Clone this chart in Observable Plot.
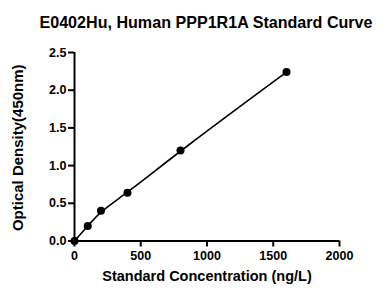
<!DOCTYPE html>
<html><head><meta charset="utf-8">
<script src="https://cdn.jsdelivr.net/npm/d3@7"></script>
<script src="https://cdn.jsdelivr.net/npm/@observablehq/plot@0.6"></script>
<style>
body{margin:0;background:#fff;font-family:"Liberation Sans",Arial,sans-serif;}
#title{height:36px;line-height:44px;font-weight:bold;font-size:16.1px;text-align:center;padding-left:29px;color:#000;white-space:nowrap;position:relative;z-index:0;}
#chart svg{overflow:visible;display:block;position:relative;z-index:1;}
</style></head>
<body>
<div id="title">E0402Hu, Human PPP1R1A Standard Curve</div>
<div id="chart"></div>
<script>
const concentration = [0, 100, 200, 400, 800, 1600];
const density = [0, 0.2, 0.4, 0.64, 1.2, 2.24];
const xTicks = [0, 500, 1000, 1500, 2000];
const yTicks = [0, 0.5, 1.0, 1.5, 2.0, 2.5];
const xLabel = "Standard Concentration (ng/L)";
const yLabel = "Optical Density(450nm)";

const data = concentration.map((c, i) => ({x: c, y: density[i]}));

const chart = Plot.plot({
  width: 383,
  height: 253,
  marginLeft: 74,
  marginRight: 44,
  marginTop: 16,
  marginBottom: 48.5,
  style: {fontFamily: "'Liberation Sans', Arial, sans-serif", background: "transparent", color: "#000", overflow: "visible"},
  x: {domain: [0, 2000]},
  y: {domain: [0, 2.5]},
  marks: [
    Plot.axisX({ticks: xTicks, tickSize: 6, tickPadding: 4, tickFormat: d => String(d), fontSize: 12.5, fontWeight: "bold", strokeWidth: 2, label: null}),
    Plot.axisY({ticks: yTicks, tickSize: 6, tickPadding: 2, tickFormat: d => d.toFixed(1), fontSize: 12.5, fontWeight: "bold", strokeWidth: 2, label: null}),
    Plot.ruleX([0], {strokeWidth: 2}),
    Plot.ruleY([0], {strokeWidth: 2}),
    Plot.line(data, {x: "x", y: "y", curve: "basis", strokeWidth: 1.6, stroke: "#000"}),
    Plot.dot(data, {x: "x", y: "y", r: 4, fill: "#000"}),
    Plot.text([xLabel], {frameAnchor: "bottom", dy: 39.5, text: d => d, fontSize: 14.5, fontWeight: "bold"}),
    Plot.text([yLabel], {frameAnchor: "left", textAnchor: "middle", dx: -56, dy: 1, rotate: -90, text: d => d, fontSize: 15, fontWeight: "bold"})
  ]
});
document.getElementById("chart").appendChild(chart);
</script>
</body></html>
